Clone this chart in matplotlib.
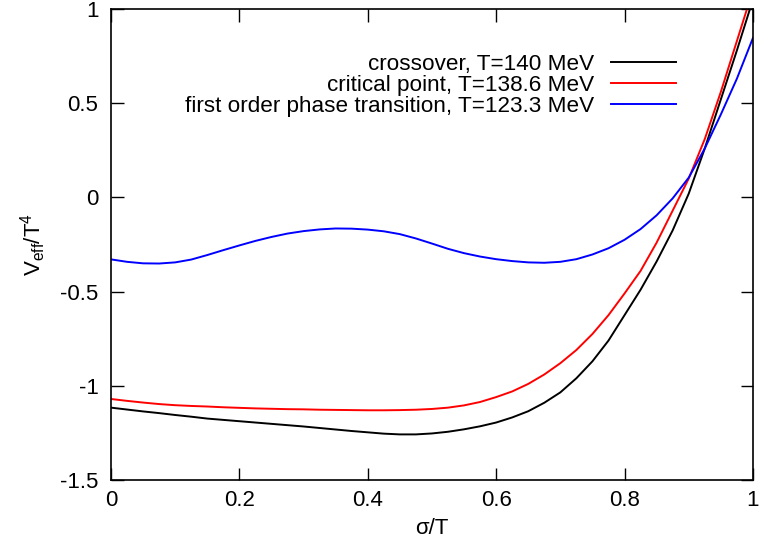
"""
Effective potential V_eff/T^4 vs sigma/T for three temperatures
"""

import matplotlib
matplotlib.use("Agg")
import matplotlib.pyplot as plt

plt.rcParams["font.family"] = ["Liberation Sans", "DejaVu Sans"]
plt.rcParams["mathtext.default"] = "regular"

# sigma/T sample points
sigma = [0.0, 0.025, 0.05, 0.075, 0.1, 0.125, 0.15, 0.175, 0.2, 0.225, 0.25,
         0.275, 0.3, 0.325, 0.35, 0.375, 0.4, 0.425, 0.45, 0.475, 0.5, 0.525,
         0.55, 0.575, 0.6, 0.625, 0.65, 0.675, 0.7, 0.725, 0.75, 0.775, 0.8,
         0.825, 0.85, 0.875, 0.9, 0.925, 0.95, 0.975, 1.0]

# crossover, T=140 MeV
v_crossover = [-1.116, -1.126, -1.136, -1.145, -1.155, -1.164, -1.174, -1.181,
               -1.188, -1.195, -1.202, -1.209, -1.216, -1.224, -1.232, -1.24,
               -1.247, -1.254, -1.258, -1.258, -1.253, -1.244, -1.231, -1.215,
               -1.195, -1.168, -1.135, -1.09, -1.035, -0.96, -0.87, -0.76,
               -0.625, -0.49, -0.34, -0.175, 0.02, 0.26, 0.52, 0.78, 1.05]

# critical point, T=138.6 MeV
v_critical = [-1.07, -1.08, -1.089, -1.097, -1.103, -1.107, -1.11, -1.114,
              -1.117, -1.12, -1.122, -1.124, -1.125, -1.127, -1.128, -1.129,
              -1.13, -1.13, -1.129, -1.127, -1.123, -1.116, -1.104, -1.086,
              -1.06, -1.03, -0.99, -0.94, -0.88, -0.81, -0.725, -0.625,
              -0.51, -0.39, -0.24, -0.07, 0.1, 0.31, 0.56, 0.83, 1.1]

# first order phase transition, T=123.3 MeV
v_first_order = [-0.329, -0.342, -0.35, -0.351, -0.345, -0.33, -0.306, -0.28,
                 -0.255, -0.231, -0.21, -0.192, -0.179, -0.17, -0.165, -0.166,
                 -0.171, -0.18, -0.195, -0.218, -0.245, -0.273, -0.296,
                 -0.314, -0.328, -0.338, -0.345, -0.347, -0.342, -0.328,
                 -0.303, -0.27, -0.225, -0.168, -0.095, -0.005, 0.105, 0.26,
                 0.44, 0.63, 0.846]

labels = [
    "crossover, T=140 MeV",
    "critical point, T=138.6 MeV",
    "first order phase transition, T=123.3 MeV",
]
colors = ["black", "red", "blue"]

fig = plt.figure(figsize=(7.59, 5.48), dpi=100)
ax = fig.add_axes([0.1462, 0.1241, 0.8458, 0.8595])

for values, label, color in zip([v_crossover, v_critical, v_first_order],
                                labels, colors):
    ax.plot(sigma, values, color=color, linewidth=1.4, label=label)

ax.set_xlim(0, 1)
ax.set_ylim(-1.5, 1)
ax.set_xticks([0, 0.2, 0.4, 0.6, 0.8, 1])
ax.set_xticklabels(["0", "0.2", "0.4", "0.6", "0.8", "1"])
ax.set_yticks([-1.5, -1, -0.5, 0, 0.5, 1])
ax.set_yticklabels(["-1.5", "-1", "-0.5", "0", "0.5", "1"])

ax.tick_params(direction="in", length=9, width=1, labelsize=16,
               top=True, right=True)
ax.tick_params(axis="x", pad=7)
ax.tick_params(axis="y", pad=9)
for spine in ax.spines.values():
    spine.set_linewidth(1.2)

ax.set_xlabel("σ/T", fontsize=16, labelpad=5)
ax.set_ylabel(r"V$_{eff}$/T$^4$", fontsize=16, labelpad=9)

ax.legend(loc="upper right", bbox_to_anchor=(0.88, 0.905), frameon=False,
          markerfirst=False, fontsize=16.2, handlelength=2.9,
          handletextpad=0.75, labelspacing=0.0, borderpad=0,
          borderaxespad=0)

fig.savefig("out.png", dpi=100)
